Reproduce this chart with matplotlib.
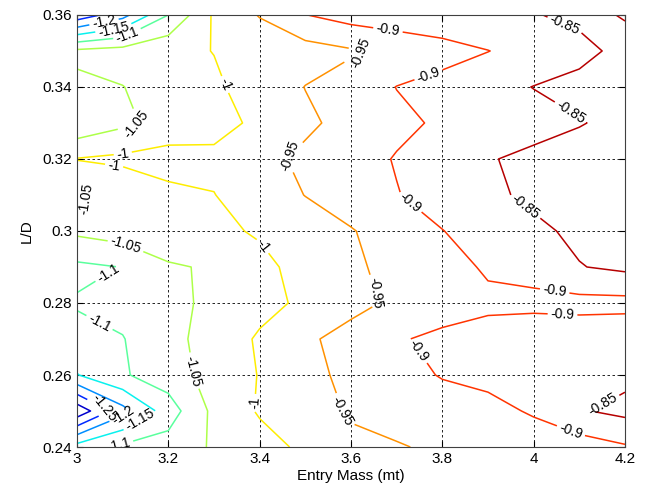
import numpy as np
import matplotlib
matplotlib.use("Agg")
import matplotlib.pyplot as plt

# grid (Entry Mass in mt, L/D)
entry_mass = [3.0, 3.1, 3.2, 3.3, 3.4, 3.5, 3.6, 3.7, 3.8, 3.9, 4.0, 4.1, 4.2]
l_over_d = [0.24, 0.25, 0.26, 0.27, 0.28, 0.29, 0.30, 0.31, 0.32, 0.33, 0.34, 0.35, 0.36]

# one row per L/D value, one column per entry mass
z_rows = [
    [-1.130, -1.090, -1.080, -1.044, -1.019, -0.990, -0.958, -0.953, -0.943, -0.933, -0.920, -0.925, -0.905],
    [-1.335, -1.217, -1.124, -1.038, -0.995, -0.968, -0.946, -0.934, -0.922, -0.911, -0.896, -0.854, -0.838],
    [-1.152, -1.105, -1.075, -1.030, -0.998, -0.964, -0.938, -0.917, -0.897, -0.890, -0.880, -0.870, -0.861],
    [-1.115, -1.102, -1.065, -1.030, -0.994, -0.959, -0.931, -0.903, -0.893, -0.885, -0.875, -0.870, -0.865],
    [-1.096, -1.085, -1.065, -1.038, -1.015, -0.991, -0.966, -0.940, -0.915, -0.908, -0.910, -0.915, -0.915],
    [-1.110, -1.099, -1.055, -1.045, -1.012, -0.984, -0.958, -0.936, -0.915, -0.895, -0.886, -0.852, -0.840],
    [-1.040, -1.025, -1.020, -1.010, -0.995, -0.974, -0.953, -0.927, -0.901, -0.880, -0.860, -0.840, -0.830],
    [-1.055, -1.037, -1.012, -1.001, -0.976, -0.949, -0.926, -0.902, -0.881, -0.860, -0.840, -0.830, -0.825],
    [-0.998, -0.990, -0.980, -0.990, -0.965, -0.940, -0.920, -0.897, -0.875, -0.853, -0.840, -0.835, -0.830],
    [-1.090, -1.060, -1.032, -1.015, -0.991, -0.959, -0.934, -0.911, -0.893, -0.880, -0.866, -0.852, -0.840],
    [-1.060, -1.051, -1.029, -1.007, -0.980, -0.949, -0.930, -0.899, -0.883, -0.865, -0.849, -0.840, -0.835],
    [-1.040, -1.030, -1.012, -0.999, -0.985, -0.970, -0.955, -0.937, -0.919, -0.901, -0.880, -0.860, -0.840],
    [-1.283, -1.218, -1.100, -0.993, -0.947, -0.901, -0.880, -0.870, -0.865, -0.860, -0.852, -0.842, -0.852],
]

levels = [-1.3, -1.25, -1.2, -1.15, -1.1, -1.05, -1.0, -0.95, -0.9, -0.85]

# where the labels sit in the reference
label_pos = [
    (3.06, 0.3575), (3.08, 0.3565), (3.11, 0.3545),
    (3.128, 0.330), (3.10, 0.3217), (3.08, 0.317), (3.31, 0.340),
    (3.02, 0.309), (3.466, 0.3208), (3.63, 0.3475), (3.68, 0.355),
    (3.77, 0.3433), (4.065, 0.3564), (4.08, 0.3328), (3.725, 0.3072),
    (3.98, 0.3064), (3.657, 0.283), (4.047, 0.2842), (4.063, 0.2761),
    (3.74, 0.266), (4.084, 0.2453), (4.15, 0.2522), (3.558, 0.249),
    (3.39, 0.2522), (3.248, 0.261), (3.044, 0.2733), (3.07, 0.2878),
    (3.10, 0.294), (3.06, 0.251), (3.10, 0.249), (3.135, 0.248),
    (3.09, 0.2415), (3.405, 0.2956),
]

X, Y = np.meshgrid(entry_mass, l_over_d)
Z = np.array(z_rows)

plt.rcParams['font.family'] = ['Liberation Sans', 'DejaVu Sans']
fig = plt.figure(figsize=(6.49, 4.91), dpi=100)
ax = fig.add_axes([0.1186, 0.0896, 0.8444, 0.8799])

norm = matplotlib.colors.Normalize(vmin=Z.min(), vmax=Z.max())
cs = ax.contour(X, Y, Z, levels=levels, cmap='jet', norm=norm, linewidths=1.1)
ax.clabel(cs, inline=True, fontsize=10, fmt='%g', colors='k', manual=label_pos, inline_spacing=3)

ax.set_xlim(3.0, 4.2)
ax.set_ylim(0.24, 0.36)
ax.set_xticks([3, 3.2, 3.4, 3.6, 3.8, 4, 4.2])
ax.set_xticklabels(['3', '3.2', '3.4', '3.6', '3.8', '4', '4.2'])
ax.set_yticks([0.24, 0.26, 0.28, 0.3, 0.32, 0.34, 0.36])
ax.set_yticklabels(['0.24', '0.26', '0.28', '0.3', '0.32', '0.34', '0.36'])
ax.grid(True, color='k', linestyle=(0, (3, 3)), linewidth=0.6)
ax.tick_params(direction='in', top=True, right=True, labelsize=11, length=4)
for s in ax.spines.values():
    s.set_color('#404040')

ax.set_xlabel('Entry Mass (mt)', fontsize=11, labelpad=2)
ax.set_ylabel('L/D', fontsize=11, labelpad=6)

fig.savefig('out.png', dpi=100)
